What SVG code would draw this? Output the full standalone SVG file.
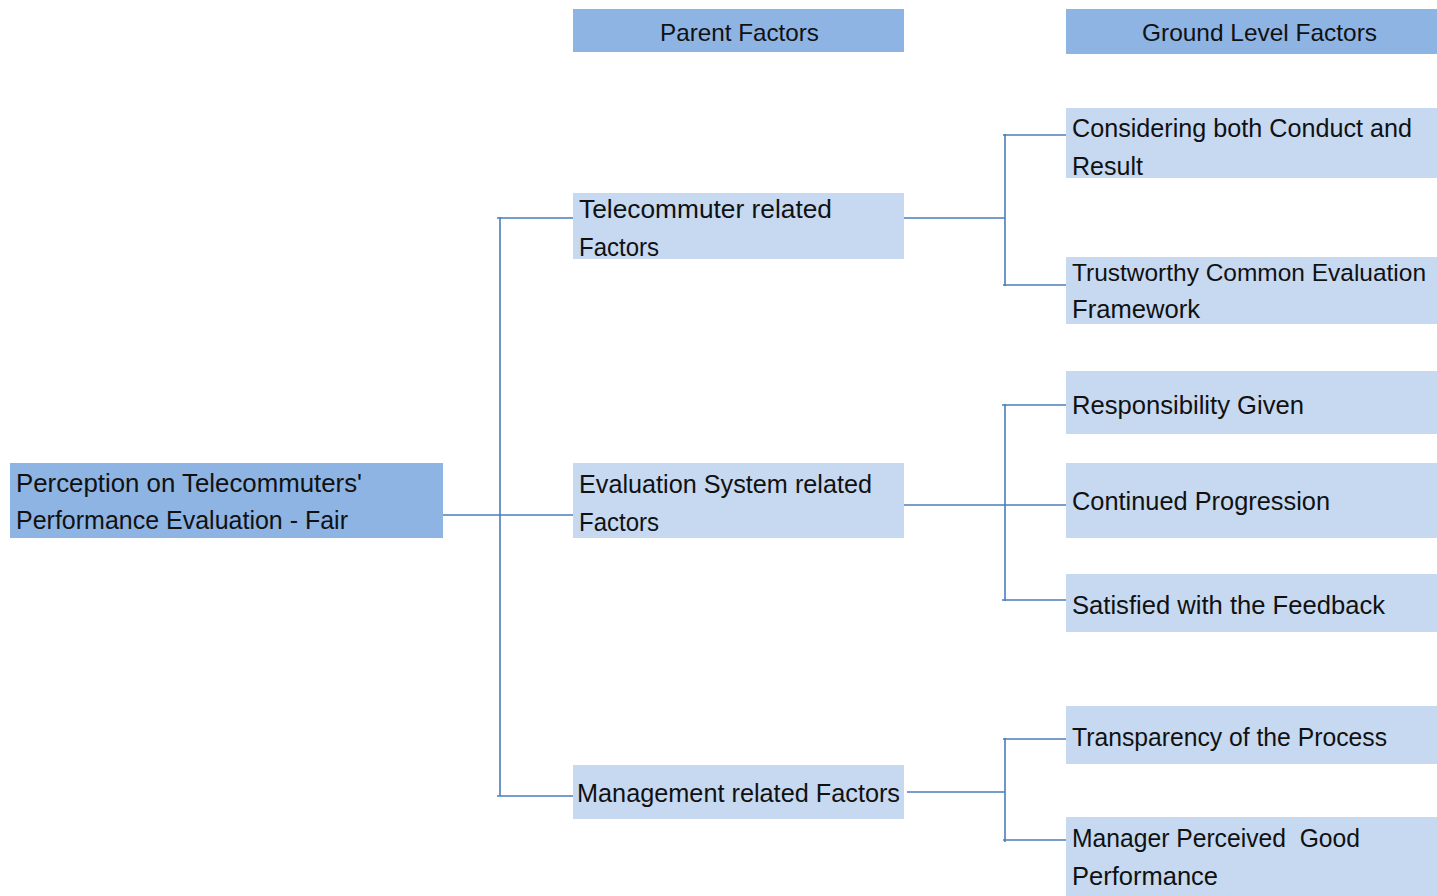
<svg xmlns="http://www.w3.org/2000/svg" width="1437" height="896" viewBox="0 0 1437 896">
<style>
.dark{fill:#8eb4e3}
.light{fill:#c6d9f1}
.t{font-family:"Liberation Sans",Arial,sans-serif;font-size:26px;fill:#111}
.h{font-family:"Liberation Sans",Arial,sans-serif;font-size:24px;fill:#111}
.c{fill:none;stroke:#4a7ebb;stroke-width:1.6}
</style>
<rect width="1437" height="896" fill="#fff"/>
<g id="header-parent"><rect class="dark" x="573" y="9" width="331" height="43"/><text class="h" x="660" y="41" textLength="159" lengthAdjust="spacingAndGlyphs">Parent Factors</text></g>
<g id="header-ground"><rect class="dark" x="1066" y="9" width="371" height="45"/><text class="h" x="1142" y="41" textLength="235" lengthAdjust="spacingAndGlyphs">Ground Level Factors</text></g>
<g id="connectors">
<path class="c" d="M443 515H573M500 217V796M497 218H573M497 796H573"/>
<path class="c" d="M904 218H1005M1005 134V286M1003 135H1066M1003 285H1066"/>
<path class="c" d="M904 505H1066M1005 404V601M1002 405H1066M1002 600H1066"/>
<path class="c" d="M907 792H1005M1005 738V842M1003 739H1066M1003 840H1066"/>
</g>
<g id="root"><rect class="dark" x="10" y="463" width="433" height="75"/><text class="t" x="16" y="492" textLength="346" lengthAdjust="spacingAndGlyphs">Perception on Telecommuters'</text><text class="t" x="16" y="529" textLength="332" lengthAdjust="spacingAndGlyphs">Performance Evaluation - Fair</text></g>
<g id="telecommuter"><rect class="light" x="573" y="193" width="331" height="66"/><text class="t" x="579" y="218" textLength="253" lengthAdjust="spacingAndGlyphs">Telecommuter related</text><text class="t" x="579" y="256" textLength="80" lengthAdjust="spacingAndGlyphs">Factors</text></g>
<g id="evaluation"><rect class="light" x="573" y="463" width="331" height="75"/><text class="t" x="579" y="493" textLength="293" lengthAdjust="spacingAndGlyphs">Evaluation System related</text><text class="t" x="579" y="531" textLength="80" lengthAdjust="spacingAndGlyphs">Factors</text></g>
<g id="management"><rect class="light" x="573" y="765" width="331" height="54"/><text class="t" x="577" y="802" textLength="323" lengthAdjust="spacingAndGlyphs">Management related Factors</text></g>
<g id="considering"><rect class="light" x="1066" y="108" width="371" height="70"/><text class="t" x="1072" y="137" textLength="340" lengthAdjust="spacingAndGlyphs">Considering both Conduct and</text><text class="t" x="1072" y="175" textLength="71" lengthAdjust="spacingAndGlyphs">Result</text></g>
<g id="trustworthy"><rect class="light" x="1066" y="257" width="371" height="67"/><text class="t" x="1072" y="281" style="font-size:24.5px" textLength="354" lengthAdjust="spacingAndGlyphs">Trustworthy Common Evaluation</text><text class="t" x="1072" y="318" textLength="128" lengthAdjust="spacingAndGlyphs">Framework</text></g>
<g id="responsibility"><rect class="light" x="1066" y="371" width="371" height="63"/><text class="t" x="1072" y="414" textLength="232" lengthAdjust="spacingAndGlyphs">Responsibility Given</text></g>
<g id="continued"><rect class="light" x="1066" y="463" width="371" height="75"/><text class="t" x="1072" y="510" textLength="258" lengthAdjust="spacingAndGlyphs">Continued Progression</text></g>
<g id="satisfied"><rect class="light" x="1066" y="574" width="371" height="58"/><text class="t" x="1072" y="614" textLength="313" lengthAdjust="spacingAndGlyphs">Satisfied with the Feedback</text></g>
<g id="transparency"><rect class="light" x="1066" y="706" width="371" height="58"/><text class="t" x="1072" y="746" textLength="315" lengthAdjust="spacingAndGlyphs">Transparency of the Process</text></g>
<g id="manager"><rect class="light" x="1066" y="817" width="371" height="79"/><text class="t" x="1072" y="847" textLength="288" lengthAdjust="spacingAndGlyphs" xml:space="preserve">Manager Perceived  Good</text><text class="t" x="1072" y="885" textLength="146" lengthAdjust="spacingAndGlyphs">Performance</text></g>
</svg>
